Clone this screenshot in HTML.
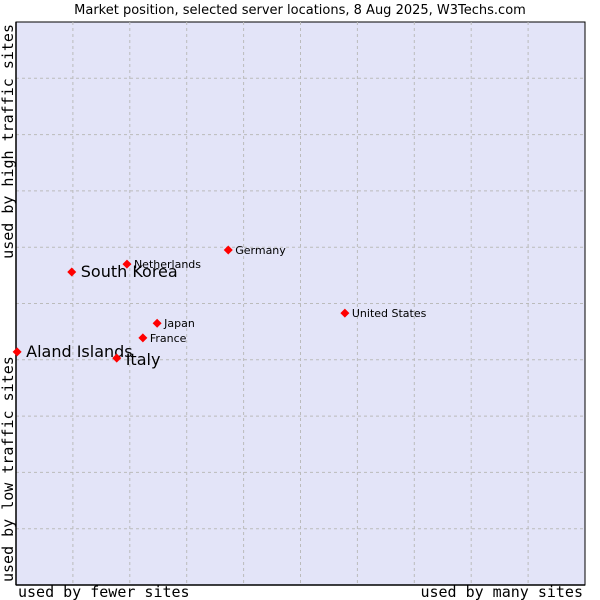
<!DOCTYPE html>
<html><head><meta charset="utf-8"><style>
body{margin:0;background:#fff;width:600px;height:600px;overflow:hidden}
svg{display:block}
</style></head><body>
<svg id="chart" width="600" height="600" xmlns="http://www.w3.org/2000/svg">
<text x="300" y="14" text-anchor="middle" font-family="DejaVu Sans, sans-serif" font-size="13" fill="#000">Market position, selected server locations, 8 Aug 2025, W3Techs.com</text>
<rect x="16" y="22" width="569" height="563" fill="#e3e4f8" stroke="#000" stroke-width="1"/>
<g id="grid"></g>
<line x1="16" y1="22" x2="16" y2="585" stroke="#000" stroke-width="1.5"/>
<line x1="16" y1="585" x2="585" y2="585" stroke="#000" stroke-width="1.5"/>
<text x="18" y="597" font-family="DejaVu Sans Mono, monospace" font-size="15">used by fewer sites</text>
<text x="583" y="597" text-anchor="end" font-family="DejaVu Sans Mono, monospace" font-size="15">used by many sites</text>
<text transform="translate(13,582) rotate(-90)" font-family="DejaVu Sans Mono, monospace" font-size="15">used by low traffic sites</text>
<text transform="translate(13,24) rotate(-90)" text-anchor="end" font-family="DejaVu Sans Mono, monospace" font-size="15">used by high traffic sites</text>
<g id="points"></g>
</svg>
<script>
const names=["South Korea","Netherlands","Germany","United States","Japan","France","Aland Islands","Italy"];
const xValues=[9.8,19.5,37.3,57.8,24.8,22.3,0.2,17.7];
const yValues=[55.6,57.0,59.5,48.3,46.5,43.9,41.4,40.3];
const highlighted=[true,false,false,false,false,false,true,true];
const NS="http://www.w3.org/2000/svg";
const X0=16,X1=585,Y0=585,Y1=22;
function sx(v){return X0+(X1-X0)*v/100;}
function sy(v){return Y0-(Y0-Y1)*v/100;}
const grid=document.getElementById('grid');
for(let i=1;i<10;i++){
  const lv=document.createElementNS(NS,'line');
  
  
  lv.setAttribute('x1',sx(i*10));lv.setAttribute('x2',sx(i*10));lv.setAttribute('y1',Y1);lv.setAttribute('y2',Y0);
  lv.setAttribute('stroke','#bbb');lv.setAttribute('stroke-dasharray','3,3');
  grid.appendChild(lv);
  const lh=document.createElementNS(NS,'line');
  
  
  lh.setAttribute('y1',sy(i*10));lh.setAttribute('y2',sy(i*10));lh.setAttribute('x1',X0);lh.setAttribute('x2',X1);
  lh.setAttribute('stroke','#bbb');lh.setAttribute('stroke-dasharray','3,3');
  grid.appendChild(lh);
}
const pts=document.getElementById('points');
names.forEach((n,i)=>{
  const x=sx(xValues[i]),y=sy(yValues[i]);
  const d=document.createElementNS(NS,'polygon');
  
  
  d.setAttribute('points',`${x},${y-4.5} ${x+4.5},${y} ${x},${y+4.5} ${x-4.5},${y}`);
  d.setAttribute('fill','#f00');
  pts.appendChild(d);
  const t=document.createElementNS(NS,'text');
  
  
  const big=highlighted[i];
  t.setAttribute('x',x+(big?9:7));
  t.setAttribute('y',y+(big?(n==='Italy'?7:5):4));
  t.setAttribute('font-family','DejaVu Sans, sans-serif');
  t.setAttribute('font-size',big?'16':'11');
  t.setAttribute('fill','#000');
  t.textContent=n;
  pts.appendChild(t);
});
</script>
</body></html>
